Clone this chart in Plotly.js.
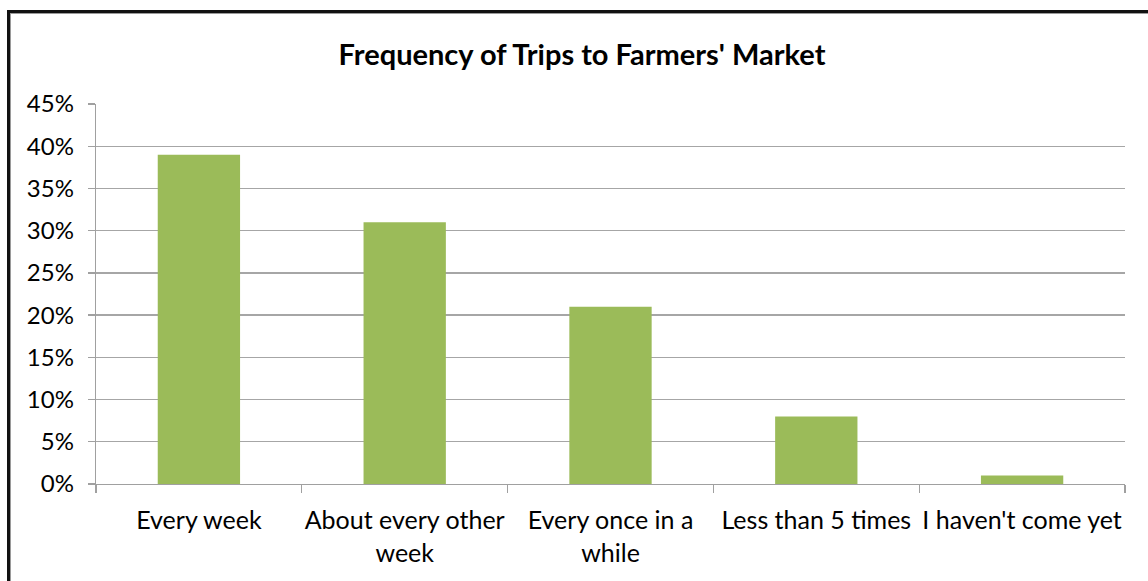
<!DOCTYPE html>
<html>
<head>
<meta charset="utf-8">
<script src="https://cdn.plot.ly/plotly-3.0.1.min.js"></script>
<style>
html,body{margin:0;padding:0;background:#fff;}
#wrap{position:relative;width:1148px;height:581px;overflow:hidden;}
#chart{position:absolute;left:0;top:0;width:1148px;height:581px;}
#frame{position:absolute;left:7px;top:10px;width:1160px;height:600px;border-left:3px solid #111;border-top:3px solid #111;box-shadow:inset 1px 1px 0 #9a9a9a;pointer-events:none;}
</style>
</head>
<body>
<div id="wrap">
<div id="chart"></div>
<div id="frame"></div>
</div>
<script>
const categories = ["Every week", "About every other<br>week", "Every once in a<br>while", "Less than 5 times", "I haven't come yet"];
const shares = [0.39, 0.31, 0.21, 0.08, 0.01];
const yTickValues = [0, 0.05, 0.10, 0.15, 0.20, 0.25, 0.30, 0.35, 0.40, 0.45];
const yTickLabels = ["0%", "5%", "10%", "15%", "20%", "25%", "30%", "35%", "40%", "45%"];
const chartTitle = "Frequency of Trips to Farmers' Market";

const font = "Lato, 'Open Sans', sans-serif";

Plotly.newPlot('chart', [{
  type: 'bar',
  x: categories,
  y: shares,
  marker: {color: '#9BBB59', line: {width: 0}},
  hoverinfo: 'none'
}], {
  width: 1148, height: 581,
  margin: {l: 96, r: 23, t: 104, b: 97},
  paper_bgcolor: '#fff', plot_bgcolor: '#fff',
  bargap: 0.6,
  showlegend: false,
  title: {text: '<b>' + chartTitle + '</b>', font: {family: font, size: 29, color: '#000'}, x: 0.507, xanchor: 'center', y: 0.905, yanchor: 'middle'},
  xaxis: {
    type: 'category',
    tickson: 'boundaries',
    tickangle: 0,
    ticks: 'outside', ticklen: 8, tickcolor: '#a0a0a0', tickwidth: 1.3,
    showline: true, linecolor: '#a0a0a0', linewidth: 1.3,
    showgrid: false,
    tickfont: {family: font, size: 25, color: '#000'},
    ticklabelstandoff: 14,
    automargin: false
  },
  yaxis: {
    range: [0, 0.45],
    tickvals: yTickValues, ticktext: yTickLabels,
    ticks: 'outside', ticklen: 7, tickcolor: '#a0a0a0', tickwidth: 1.3,
    showline: true, linecolor: '#a0a0a0', linewidth: 1.3,
    showgrid: true, gridcolor: '#a6a6a6', gridwidth: 1.3,
    zeroline: false,
    tickfont: {family: font, size: 24, color: '#000'},
    ticklabelstandoff: 9,
    automargin: false
  }
}, {staticPlot: true});
</script>
</body>
</html>
